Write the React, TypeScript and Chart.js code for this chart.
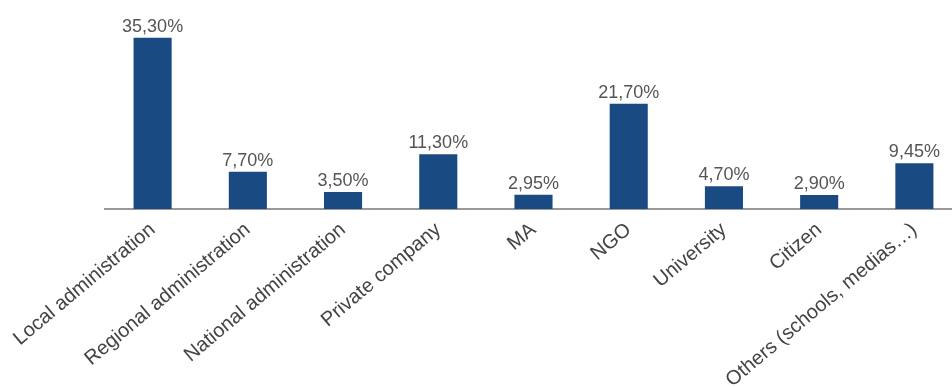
import React, { useEffect, useRef } from "react";
import { Chart, registerables } from "chart.js";

Chart.register(...registerables);

const categories = [
  "Local administration",
  "Regional administration",
  "National administration",
  "Private company",
  "MA",
  "NGO",
  "University",
  "Citizen",
  "Others (schools, medias…)",
];
const values = [35.3, 7.7, 3.5, 11.3, 2.95, 21.7, 4.7, 2.9, 9.45];
const valueLabels = ["35,30%", "7,70%", "3,50%", "11,30%", "2,95%", "21,70%", "4,70%", "2,90%", "9,45%"];

const FONT = "'Liberation Sans', Arial, sans-serif";

const valueLabelPlugin = {
  id: "valueLabels",
  afterDatasetsDraw(chart: any) {
    const ctx = chart.ctx;
    const meta = chart.getDatasetMeta(0);
    ctx.save();
    ctx.font = `18px ${FONT}`;
    ctx.fillStyle = "#555555";
    ctx.textAlign = "center";
    ctx.textBaseline = "alphabetic";
    meta.data.forEach((bar: any, i: number) => {
      ctx.fillText(valueLabels[i], bar.x, bar.y - 6);
    });
    ctx.restore();
  },
};

export default function App() {
  const ref = useRef<HTMLCanvasElement>(null);
  useEffect(() => {
    document.body.style.margin = "0";
    const chart = new Chart(ref.current!, {
      type: "bar",
      data: {
        labels: categories,
        datasets: [
          {
            data: values,
            backgroundColor: "#194a82",
            barPercentage: 0.4,
            categoryPercentage: 1,
          },
        ],
      },
      options: {
        animation: false,
        responsive: false,
        maintainAspectRatio: false,
        layout: { padding: { left: 105, right: 0, top: 15, bottom: 0 } },
        plugins: { legend: { display: false }, tooltip: { enabled: false } },
        scales: {
          y: { display: false, min: 0, max: 40 },
          x: {
            grid: { display: false },
            border: { display: true, color: "#999999", width: 2 },
            ticks: {
              color: "#444444",
              font: { family: FONT, size: 20 },
              minRotation: 40,
              maxRotation: 40,
              autoSkip: false,
              padding: 1,
            },
            afterFit(scale: any) {
              scale.height = 178;
              scale.paddingLeft = 0;
              scale.paddingRight = 0;
            },
          },
        },
      },
      plugins: [valueLabelPlugin],
    });
    return () => chart.destroy();
  }, []);
  return (
    <div style={{ width: 952, height: 387, overflow: "hidden" }}>
      <canvas ref={ref} width={962} height={387} style={{ display: "block" }} />
    </div>
  );
}
